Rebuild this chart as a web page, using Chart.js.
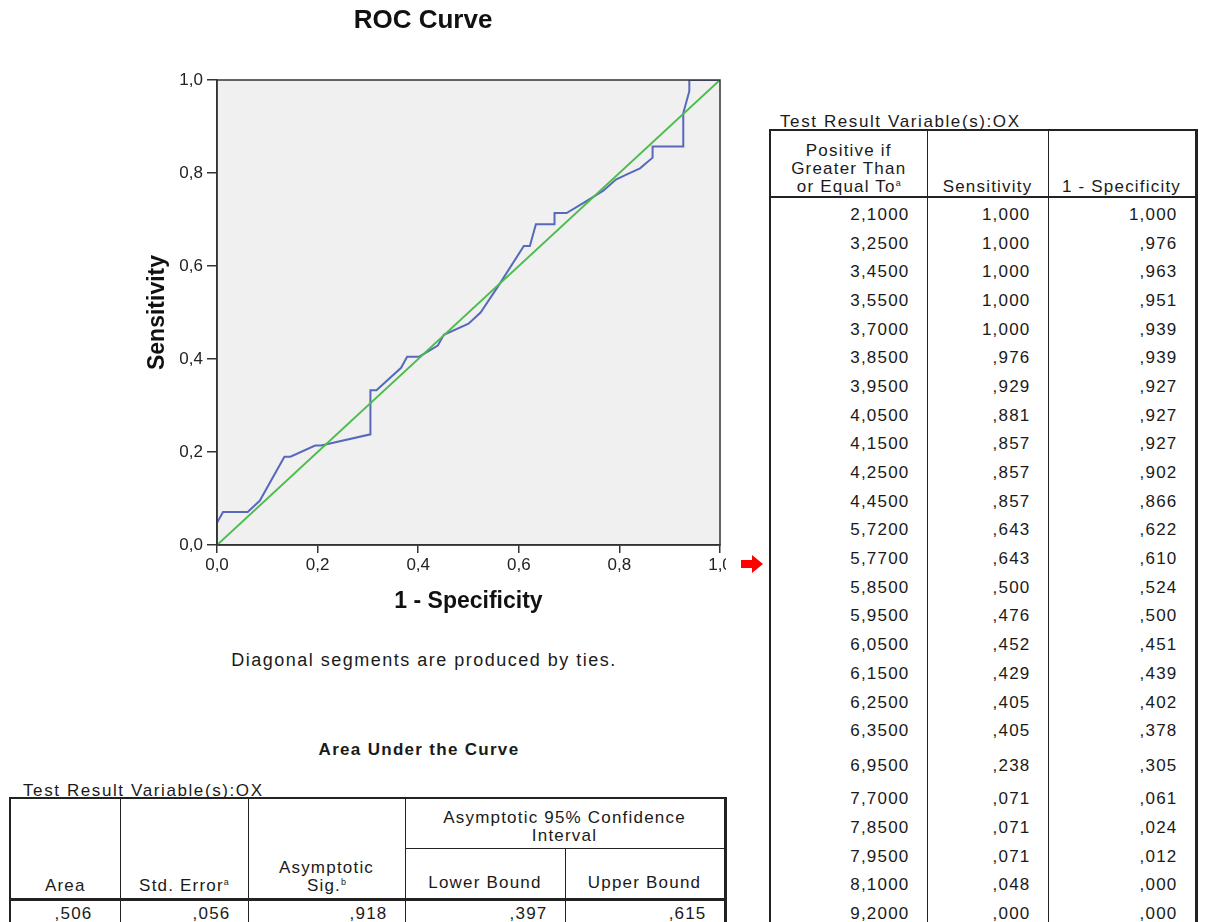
<!DOCTYPE html>
<html>
<head>
<meta charset="utf-8">
<title>ROC Curve</title>
<script src="https://cdn.jsdelivr.net/npm/chart.js@4.4.0/dist/chart.umd.min.js"></script>
<style>
  html, body { margin: 0; padding: 0; background: #fff; }
  body {
    position: relative; width: 1206px; height: 922px; overflow: hidden;
    font-family: "Liberation Sans", Arial, sans-serif; color: #1a1a1a;
  }
  #rocChart { position: absolute; left: 126px; top: 0; }
  .note { position: absolute; text-align: center; font-size: 18px; letter-spacing: 1.5px; line-height: 20px; white-space: nowrap; }
  .heading { position: absolute; text-align: center; font-size: 17px; font-weight: bold; letter-spacing: 1.3px; line-height: 20px; white-space: nowrap; }
  .caption { position: absolute; font-size: 17px; letter-spacing: 1.6px; line-height: 20px; white-space: nowrap; }
  #arrow { position: absolute; left: 741px; top: 555px; }

  table { position: absolute; border-collapse: collapse; table-layout: fixed; font-size: 17px; letter-spacing: 1.2px; }
  th { font-weight: normal; vertical-align: bottom; text-align: center; line-height: 18px; padding: 0 2px 0; }
  td { text-align: right; padding: 5px 17px 0 0; vertical-align: middle; }
  sup { font-size: 9px; line-height: 0; vertical-align: 6px; letter-spacing: 0; }

  #coords { left: 769px; top: 129px; width: 426px; border-top: 2px solid #222; border-left: 2px solid #222; border-right: 3px solid #222; }
  #coords th { height: 65px; border-bottom: 2px solid #222; border-right: 1.5px solid #222; }
  #coords td { border-right: 1.5px solid #222; height: 23.7px; }
  #coords tr.tall td { height: 31px; padding-top: 7px; }
  #coords tr.mid td { height: 25px; }

  #auc { left: 9px; top: 797px; width: 715px; border-top: 2px solid #222; border-left: 2px solid #222; border-right: 3px solid #222; }
  #auc th { border-right: 1.5px solid #222; }
  #auc tr.top th { height: 46px; padding-bottom: 3px; }
  #auc tr.sub th { height: 43px; padding-bottom: 6px; border-top: 1.5px solid #222; border-bottom: 3px solid #222; }
  #auc th.span2 { border-bottom: 3px solid #222; padding-bottom: 8px; }
  #auc td { border-right: 1.5px solid #222; height: 26px; padding-top: 0; }
  #auc td.first { padding-right: 27px; }
</style>
</head>
<body>

<canvas id="rocChart" width="600" height="640" style="width:600px;height:640px"></canvas>

<div class="note" style="left:0; top:650px; width:848px;">Diagonal segments are produced by ties.</div>
<div class="heading" style="left:0; top:740px; width:838px;">Area Under the Curve</div>

<div class="caption" style="left:23px; top:781px;">Test Result Variable(s):OX</div>
<table id="auc">
  <colgroup><col style="width:110px"><col style="width:128px"><col style="width:157px"><col style="width:160px"><col style="width:160px"></colgroup>
  <thead>
    <tr class="top">
      <th rowspan="2" class="span2">Area</th>
      <th rowspan="2" class="span2">Std. Error<sup>a</sup></th>
      <th rowspan="2" class="span2">Asymptotic<br>Sig.<sup>b</sup></th>
      <th colspan="2">Asymptotic 95% Confidence<br>Interval</th>
    </tr>
    <tr class="sub">
      <th>Lower Bound</th>
      <th>Upper Bound</th>
    </tr>
  </thead>
  <tbody id="aucBody"></tbody>
</table>

<svg id="arrow" width="22" height="18" viewBox="0 0 22 18">
  <polygon points="0,5 11,5 11,0 22,9 11,18 11,13 0,13" fill="#ff0000"/>
</svg>

<div class="caption" style="left:780px; top:112px;">Test Result Variable(s):OX</div>
<table id="coords">
  <colgroup><col style="width:157px"><col style="width:121px"><col style="width:148px"></colgroup>
  <thead>
    <tr>
      <th>Positive if<br>Greater Than<br>or Equal To<sup>a</sup></th>
      <th>Sensitivity</th>
      <th>1 - Specificity</th>
    </tr>
  </thead>
  <tbody id="coordsBody"></tbody>
</table>

<script>
// ROC curve for OX: x = 1 - specificity, y = sensitivity
const rocFpr = [0.000, 0.000, 0.012, 0.024, 0.061, 0.085, 0.134, 0.146, 0.195, 0.207,
                0.305, 0.305, 0.317, 0.366, 0.378, 0.402, 0.439, 0.451, 0.500, 0.524,
                0.561, 0.610, 0.622, 0.634, 0.671, 0.671, 0.695, 0.732, 0.768, 0.793,
                0.817, 0.841, 0.866, 0.866, 0.902, 0.927, 0.927, 0.927, 0.939, 0.939,
                0.951, 0.963, 0.976, 1.000];
const rocTpr = [0.000, 0.048, 0.071, 0.071, 0.071, 0.095, 0.190, 0.190, 0.214, 0.214,
                0.238, 0.333, 0.333, 0.381, 0.405, 0.405, 0.429, 0.452, 0.476, 0.500,
                0.560, 0.643, 0.643, 0.690, 0.690, 0.714, 0.714, 0.738, 0.762, 0.786,
                0.798, 0.810, 0.833, 0.857, 0.857, 0.857, 0.881, 0.929, 0.976, 1.000,
                1.000, 1.000, 1.000, 1.000];

// chance diagonal
const refX = [0, 1];
const refY = [0, 1];

const axisTicks = [0, 0.2, 0.4, 0.6, 0.8, 1.0];

// coordinates of the curve (selected cut-offs)
const cutoffs = [2.1, 3.25, 3.45, 3.55, 3.7, 3.85, 3.95, 4.05, 4.15, 4.25, 4.45, 5.72, 5.77,
                 5.85, 5.95, 6.05, 6.15, 6.25, 6.35, 6.95, 7.7, 7.85, 7.95, 8.1, 9.2];
const tableSens = [1, 1, 1, 1, 1, 0.976, 0.929, 0.881, 0.857, 0.857, 0.857, 0.643, 0.643,
                   0.500, 0.476, 0.452, 0.429, 0.405, 0.405, 0.238, 0.071, 0.071, 0.071, 0.048, 0];
const tableFpr = [1, 0.976, 0.963, 0.951, 0.939, 0.939, 0.927, 0.927, 0.927, 0.902, 0.866, 0.622, 0.610,
                  0.524, 0.500, 0.451, 0.439, 0.402, 0.378, 0.305, 0.061, 0.024, 0.012, 0, 0];

// area under the curve
const aucValues = [0.506, 0.056, 0.918, 0.397, 0.615];

// SPSS style numbers: comma decimal, no leading zero
function fmt(v, digits) {
  let s = v.toFixed(digits).replace('.', ',');
  if (v < 1) s = s.replace(/^0/, '');
  return s;
}

const coordsBody = document.getElementById('coordsBody');
cutoffs.forEach((c, i) => {
  const tr = document.createElement('tr');
  if (c === 6.95) tr.className = 'tall';
  if (c === 7.7) tr.className = 'mid';
  [fmt(c, 4), fmt(tableSens[i], 3), fmt(tableFpr[i], 3)].forEach(t => {
    const td = document.createElement('td');
    td.textContent = t;
    tr.appendChild(td);
  });
  coordsBody.appendChild(tr);
});

const aucRow = document.createElement('tr');
aucValues.forEach((v, i) => {
  const td = document.createElement('td');
  td.textContent = fmt(v, 3);
  if (i === 0) td.className = 'first';
  aucRow.appendChild(td);
});
document.getElementById('aucBody').appendChild(aucRow);

// grey plot background and closed frame
const plotFrame = {
  id: 'plotFrame',
  beforeDraw(chart) {
    const { ctx, chartArea: a } = chart;
    ctx.save();
    ctx.fillStyle = '#f0f0f0';
    ctx.fillRect(a.left, a.top, a.width, a.height);
    ctx.restore();
  },
  afterDatasetsDraw(chart) {
    const { ctx, chartArea: a } = chart;
    ctx.save();
    ctx.strokeStyle = '#333';
    ctx.lineWidth = 1.5;
    ctx.strokeRect(a.left, a.top, a.width, a.height);
    ctx.restore();
  }
};

const tickFont = { family: '"Liberation Sans", Arial, sans-serif', size: 17 };
const titleFont = { family: '"Liberation Sans", Arial, sans-serif', size: 23, weight: 'bold' };

new Chart(document.getElementById('rocChart'), {
  type: 'scatter',
  data: {
    datasets: [
      {
        label: 'Reference Line',
        data: refX.map((x, i) => ({ x: x, y: refY[i] })),
        showLine: true,
        borderColor: '#4cbd4c',
        borderWidth: 2,
        pointRadius: 0
      },
      {
        label: 'OX',
        data: rocFpr.map((x, i) => ({ x: x, y: rocTpr[i] })),
        showLine: true,
        borderColor: '#5669ba',
        borderWidth: 2,
        pointRadius: 0
      }
    ]
  },
  options: {
    responsive: false,
    animation: false,
    devicePixelRatio: 1,
    layout: { autoPadding: false, padding: { top: 0, right: 6, bottom: 0, left: 0 } },
    plugins: {
      legend: { display: false },
      tooltip: { enabled: false },
      title: {
        display: true,
        text: 'ROC Curve',
        color: '#111',
        font: { family: '"Liberation Sans", Arial, sans-serif', size: 26, weight: 'bold' },
        padding: { top: 5, bottom: 43.8 }
      }
    },
    scales: {
      x: {
        type: 'linear',
        min: 0, max: 1,
        afterBuildTicks: s => { s.ticks = axisTicks.map(v => ({ value: v })); },
        // fixed axis band; the last label is allowed to run off the canvas
        afterFit: s => { s.height = 95; s.paddingLeft = 0; s.paddingRight = 0; },
        ticks: { font: tickFont, color: '#222', padding: 2, maxRotation: 0,
                 callback: v => v.toFixed(1).replace('.', ',') },
        grid: { drawOnChartArea: false, tickLength: 8, color: '#333', lineWidth: 1.5 },
        border: { color: '#333', width: 1.5 },
        title: { display: true, text: '1 - Specificity', color: '#111', font: titleFont, padding: { top: 0, bottom: 25 } }
      },
      y: {
        type: 'linear',
        min: 0, max: 1,
        afterBuildTicks: s => { s.ticks = axisTicks.map(v => ({ value: v })); },
        afterFit: s => { s.width = 91; s.paddingTop = 0; s.paddingBottom = 0; },
        ticks: { font: tickFont, color: '#222', padding: 4,
                 callback: v => v.toFixed(1).replace('.', ',') },
        grid: { drawOnChartArea: false, tickLength: 10, color: '#333', lineWidth: 1.5 },
        border: { color: '#333', width: 1.5 },
        title: { display: true, text: 'Sensitivity', color: '#111', font: titleFont, padding: { top: 18, bottom: 0 } }
      }
    }
  },
  plugins: [plotFrame]
});
</script>
</body>
</html>
